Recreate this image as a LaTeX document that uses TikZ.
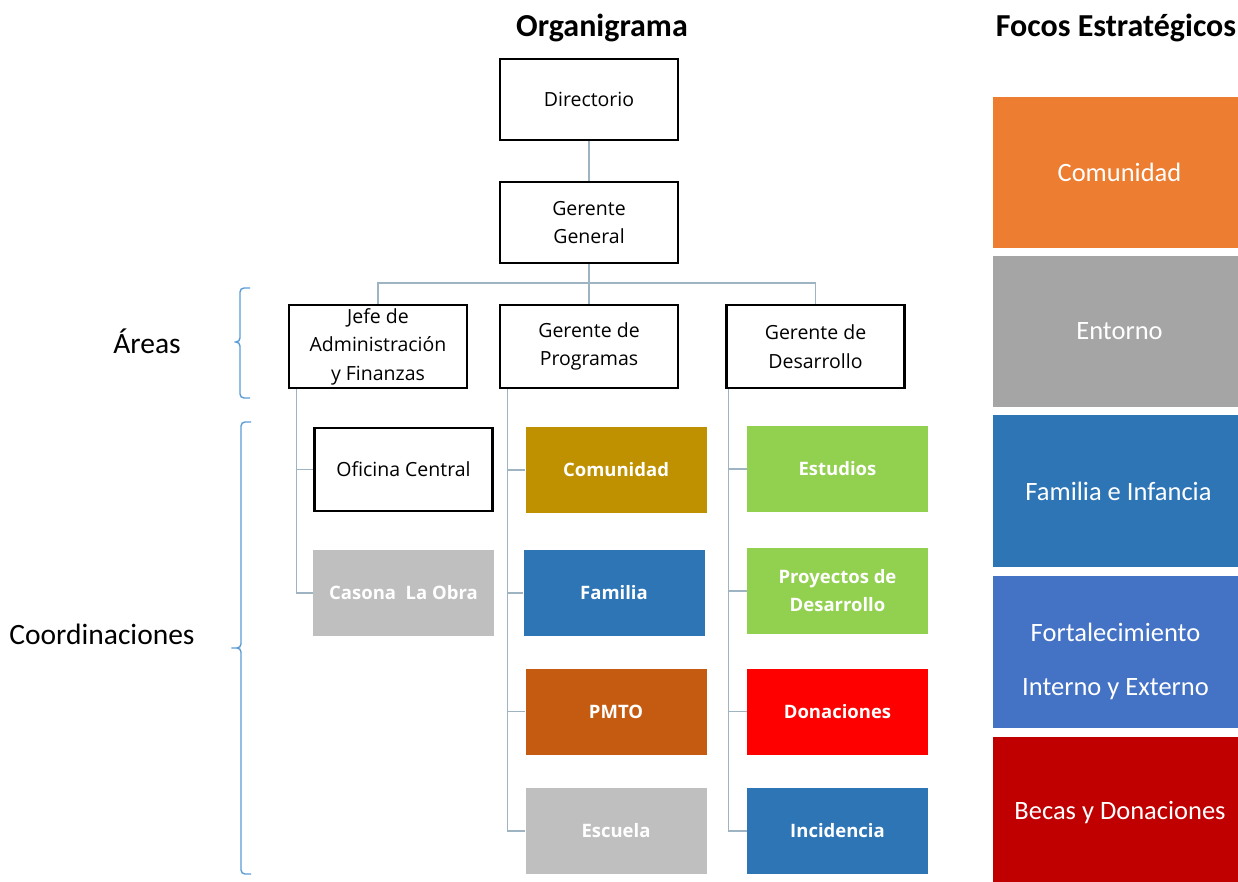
\documentclass[tikz,border=0pt]{standalone}
\usepackage{fontspec}
\setmainfont{Carlito}
\newfontfamily\boxfont{Open Sans}
\usetikzlibrary{positioning}
\definecolor{linegray}{HTML}{9FB4C2}
\definecolor{bracblue}{HTML}{5B9BD5}
\definecolor{gold}{HTML}{BF9000}
\definecolor{midblue}{HTML}{2E75B6}
\definecolor{rust}{HTML}{C55A11}
\definecolor{lightgray}{HTML}{BFBFBF}
\definecolor{leaf}{HTML}{92D050}
\definecolor{brightred}{HTML}{FF0000}
\definecolor{focorange}{HTML}{ED7D31}
\definecolor{focgray}{HTML}{A5A5A5}
\definecolor{focblue}{HTML}{4472C4}
\definecolor{darkred}{HTML}{C00000}

\begin{document}
\begin{tikzpicture}[x=1pt,y=-1pt,
  orgbox/.style={draw=black,line width=2.6pt,fill=white,minimum width=178pt,
    minimum height=81pt,align=center,inner sep=2pt,
    font=\boxfont\fontsize{19.5}{28.5}\selectfont},
  coordbox/.style={minimum width=181pt,minimum height=86pt,align=center,inner sep=2pt,
    text=white,font=\boxfont\bfseries\fontsize{18.5}{28}\selectfont},
  focbox/.style={minimum width=245pt,minimum height=151pt,align=center,inner sep=2pt,
    text=white,font=\fontsize{26.5}{54}\selectfont},
  conn/.style={linegray,line width=1.4pt},
  brac/.style={bracblue,line width=1.4pt,rounded corners=4pt},
  title/.style={font=\bfseries\fontsize{32}{36}\selectfont},
  side/.style={font=\fontsize{29.5}{33}\selectfont}]

\useasboundingbox (0,0) rectangle (1238,882);

% titles
\node[title] (ttorg) at (602,28) {Organigrama};
\node[title] (ttfoc) at (1116,28) {Focos Estratégicos};

% upper levels
\node[orgbox] (dir) at (589,99.5) {Directorio};
\node[orgbox] (gg) at (589,222.5) {Gerente\\General};
\node[orgbox,minimum height=83pt] (jefe) at (378,346.5) {Jefe de\\Administración\\y Finanzas};
\node[orgbox,minimum height=83pt] (prog) at (589,346.5) {Gerente de\\Programas};
\node[orgbox,minimum height=83pt] (des) at (815.5,346.5) {Gerente de\\Desarrollo};

% coordinaciones
\node[orgbox,minimum height=83pt] (ofi) at (403.5,469.5) {Oficina Central};
\node[coordbox,fill=lightgray] (casona) at (403.5,593) {Casona\ \ La Obra};

\node[coordbox,fill=gold] (comP) at (616,470) {Comunidad};
\node[coordbox,fill=midblue] (fam) at (614,593) {Familia};
\node[coordbox,fill=rust] (pmto) at (616,711.5) {PMTO};
\node[coordbox,fill=lightgray] (esc) at (616,831) {Escuela};

\node[coordbox,fill=leaf] (estu) at (837.5,469) {Estudios};
\node[coordbox,fill=leaf] (proy) at (837.5,591) {Proyectos de\\Desarrollo};
\node[coordbox,fill=brightred] (dona) at (837.5,711.5) {Donaciones};
\node[coordbox,fill=midblue] (inci) at (837.5,831) {Incidencia};

% focos
\node[focbox,fill=focorange] (fcom) at (1115.5,172.5) {\hspace*{8pt}Comunidad};
\node[focbox,fill=focgray] (fent) at (1115.5,331.5) {\hspace*{8pt}Entorno};
\node[focbox,fill=midblue,minimum height=152pt] (ffam) at (1115.5,491) {\hspace*{6pt}Familia e Infancia};
\node[focbox,fill=focblue,minimum height=152pt] (ffor) at (1115.5,652) {\rule{0pt}{38pt}Fortalecimiento\\Interno y Externo};
\node[focbox,fill=darkred,minimum height=145pt] (fbec) at (1115.5,809.5) {\rule{0pt}{24pt}\hspace*{9pt}Becas y Donaciones};

% connectors
\coordinate (bar) at (589,283);
\draw[conn] (dir) -- (gg);
\draw[conn] (gg) -- (prog);
\draw[conn] (jefe.north) |- (bar) -| (des.north);

\foreach \n in {ofi,casona}
  \draw[conn] ([xshift=9pt]jefe.south west) |- (\n.west);
\foreach \n in {comP,fam,pmto,esc}
  \draw[conn] ([xshift=9pt]prog.south west) |- (\n.west);
\foreach \n in {estu,proy,dona,inci}
  \draw[conn] ([xshift=3.5pt]des.south west) |- (\n.west);

% side labels and braces
\node[side] (areas) at (147,341) {Áreas};
\node[side] (coord) at (102,634) {Coordinaciones};
\draw[brac] (250,288) -- (240,288) -- (240,342) -- (232,342) -- (240,342) -- (240,398) -- (250,398);
\draw[brac] (251,422) -- (241,422) -- (241,648) -- (229,648) -- (241,648) -- (241,874) -- (251,874);
\end{tikzpicture}
\end{document}
